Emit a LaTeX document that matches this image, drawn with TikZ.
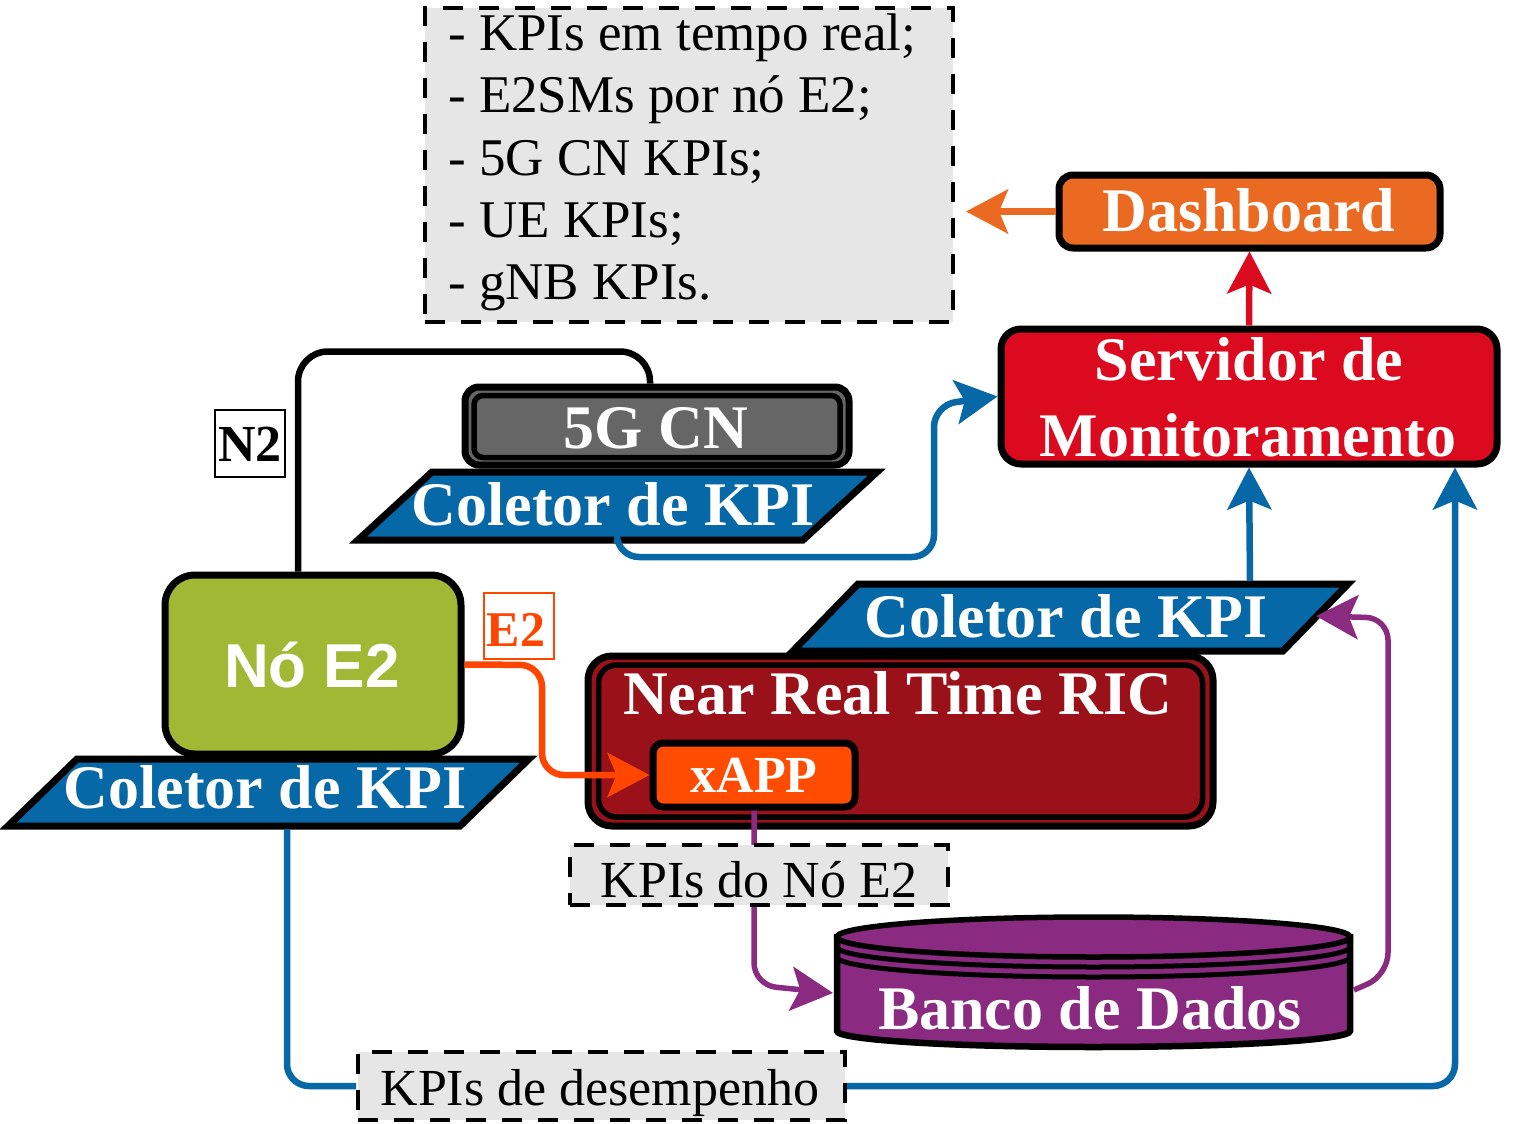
\documentclass[tikz,border=0pt]{standalone}
\usepackage{fontspec}
\setmainfont{Liberation Serif}
\newfontfamily\sansf{Liberation Sans}
\usetikzlibrary{arrows.meta,calc}
\definecolor{cblue}{RGB}{6,104,166}
\definecolor{cred}{RGB}{220,10,30}
\definecolor{corange}{RGB}{234,106,34}
\definecolor{colive}{RGB}{160,184,52}
\definecolor{cdred}{RGB}{155,17,25}
\definecolor{cxapp}{RGB}{255,76,0}
\definecolor{cpurple}{RGB}{139,42,129}
\definecolor{cgray}{RGB}{102,102,102}
\definecolor{clight}{RGB}{230,230,230}
\definecolor{ce2}{RGB}{255,69,0}
\begin{document}
\begin{tikzpicture}[x=1pt,y=-1pt,
  bx/.style={draw=black, line width=7pt, rounded corners=14pt, inner sep=0pt},
  dbox/.style={draw=black, fill=clight, line width=4pt, dash pattern=on 20pt off 16pt, inner sep=0pt},
  para/.style={draw=black, fill=cblue, line width=7pt, line join=miter},
  btxt/.style={text=white, font=\fontsize{62}{62}\selectfont\bfseries, inner sep=0pt, anchor=base},
  ltxt/.style={text=black, font=\fontsize{52}{52}\selectfont, inner sep=0pt, anchor=base},
  conn/.style={line width=6.5pt, rounded corners=22pt},
  tip/.style={-{Stealth[length=42pt,width=44pt,inset=9pt]}},
]
\useasboundingbox (0,0) rectangle (1516,1124);
\fill[white] (0,0) rectangle (1516,1124);

% list box
\node[dbox, minimum width=528, minimum height=314] (list) at (689,165) {};
\node[ltxt, anchor=base west, font=\fontsize{53}{53}\selectfont] (l1) at (448,51) {- KPIs em tempo real;};
\node[ltxt, anchor=base west, font=\fontsize{53}{53}\selectfont] (l2) at (448,113) {- E2SMs por nó E2;};
\node[ltxt, anchor=base west, font=\fontsize{53}{53}\selectfont] (l3) at (448,175) {- 5G CN KPIs;};
\node[ltxt, anchor=base west, font=\fontsize{53}{53}\selectfont] (l4) at (448,237) {- UE KPIs;};
\node[ltxt, anchor=base west, font=\fontsize{53}{53}\selectfont] (l5) at (448,299) {- gNB KPIs.};

% Dashboard and server
\node[bx, fill=corange, minimum width=381, minimum height=73] (dash) at (1249.5,211.5) {};
\node[btxt] (dasht) at (1249,231) {Dashboard};
\node[bx, fill=cred, minimum width=496, minimum height=135, rounded corners=20pt] (serv) at (1249,396.5) {};
\node[btxt] (serv1) at (1249,380) {Servidor de};
\node[btxt] (serv2) at (1248,456) {Monitoramento};

\coordinate (listin) at (966,211.5);
\draw[conn, corange, tip] (dash.west) -- (listin);
\draw[conn, cred, tip] (serv.north) -- (dash.south);

% Nó E2
\node[bx, fill=colive, minimum width=296, minimum height=179, rounded corners=30pt] (noe2) at (313,664.5) {};
\node[text=white, font=\fontsize{62}{62}\selectfont\sansf\bfseries, inner sep=0pt, anchor=base] (noe2t) at (312,687) {Nó E2};

% 5G CN
\node[bx, fill=cgray, line width=7pt, minimum width=384, minimum height=78, rounded corners=14pt] (cn) at (657,426) {};
\node[draw=black, line width=5.5pt, rounded corners=9pt, minimum width=366, minimum height=62, inner sep=0pt] (cnin) at (657,426.5) {};
\node[btxt] (cnt) at (656,448) {5G CN};

% N2 link
\draw[line width=6.5pt, rounded corners=30pt] ([xshift=-15pt]noe2.north) -- ++(0,-220) -| ([xshift=-7pt]cn.north);
\node[draw=black, fill=white, line width=2.5pt, minimum width=70, minimum height=67, inner sep=0pt] (n2box) at (250,443.5) {};
\node[ltxt, font=\fontsize{52}{52}\selectfont\bfseries] (n2t) at (250,461) {N2};

% top collector
\draw[para] (358,540) -- (432,472) -- (877,472) -- (803,540) -- cycle;
\node[btxt] (colA) at (613,525) {Coletor de KPI};
\coordinate (colAb) at (617,543);

% RIC
\node[bx, fill=cdred, minimum width=625, minimum height=170, rounded corners=24pt] (ric) at (900.5,741) {};
\node[draw=black, line width=5.5pt, rounded corners=18pt, minimum width=604, minimum height=152, inner sep=0pt] (ricin) at (900.5,741) {};
\node[btxt] (rict) at (898,714) {Near Real Time RIC};
\node[bx, fill=cxapp, minimum width=202, minimum height=64, rounded corners=10pt] (xapp) at (754,775) {};
\node[btxt, font=\fontsize{52}{52}\selectfont\bfseries] (xappt) at (754,792) {xAPP};

% right collector
\draw[para] (793,651) -- (858,584) -- (1348,584) -- (1283,651) -- cycle;
\node[btxt] (colC) at (1066,637) {Coletor de KPI};
\coordinate (colCt) at (1250,581);
\coordinate (colCe) at (1316,616);

% left collector
\draw[para] (8,826) -- (77,759) -- (529,759) -- (460,826) -- cycle;
\node[btxt] (colB) at (265,808) {Coletor de KPI};
\coordinate (colBb) at (287,829);

% database
\filldraw[fill=cpurple, line width=6.5pt] (837,937) -- (837,1031) arc[start angle=180,end angle=0,x radius=256.5,y radius=16] -- (1350,937) -- cycle;
\filldraw[fill=cpurple, line width=5.5pt] (1093.5,937) ellipse[x radius=256.5, y radius=20];
\draw[line width=5pt] (837,947) arc[start angle=180,end angle=0,x radius=256.5,y radius=20];
\draw[line width=5pt] (837,957) arc[start angle=180,end angle=0,x radius=256.5,y radius=20];
\node[btxt] (dbt) at (1090,1029) {Banco de Dados};
\coordinate (dbW) at (833,993);
\coordinate (dbE) at (1354,990);

% connectors
\draw[conn, cblue, tip] (colAb) -- (617,557) -- (934,557) -- (934,405) -- (serv.west);
\draw[conn, cblue, tip] (colCt) -- (serv.south);
\draw[conn, ce2, tip] (noe2.east) -- (542,665) -- (542,775) -- (xapp.west);
\draw[conn, cpurple, line width=5.5pt, tip] (xapp.south) -- (754,985) -- (dbW);
\draw[conn, cpurple, line width=5.5pt, tip] (dbE) -- (1388,975) -- (1388,618) -- (colCe);

% KPIs do No E2 label
\node[dbox, minimum width=378, minimum height=60] (kne) at (759,875) {};
\node[ltxt] (knet) at (759,897) {KPIs do Nó E2};

% performance path
\node[dbox, minimum width=487, minimum height=68] (kpid) at (601.5,1086) {};
\node[ltxt] (kpidt) at (600,1105) {KPIs de desempenho};
\draw[conn, cblue] (colBb) -- (287,1086) -- (kpid.west);
\draw[conn, cblue, tip] (kpid.east) -- (1455,1086) -- ([xshift=206pt]serv.south);

% E2 label
\node[draw=ce2, fill=white, line width=2.5pt, minimum width=70, minimum height=66, inner sep=0pt] (e2box) at (519,626) {};
\node[ltxt, text=ce2, font=\fontsize{50}{50}\selectfont\bfseries] (e2t) at (516,646) {E2};
\end{tikzpicture}
\end{document}
